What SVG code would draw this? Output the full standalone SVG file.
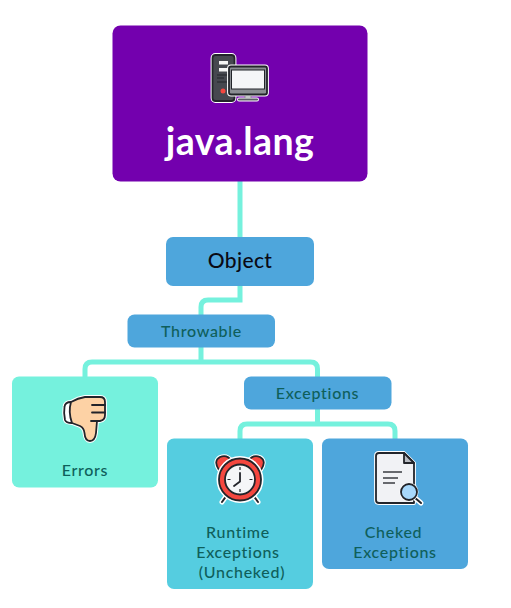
<svg xmlns="http://www.w3.org/2000/svg" width="511" height="608" viewBox="0 0 511 608">
<style>
text{font-family:"Lato","Noto Sans",sans-serif;text-anchor:middle}
.lbl{font-size:16px;font-weight:500;fill:#0f5f5b;letter-spacing:.7px}
.con{fill:none;stroke:#75f1dd;stroke-width:5}
.ol{stroke:#22242a;stroke-width:1.800;stroke-linejoin:round;stroke-linecap:round}
.halo{fill:none;stroke:#fff;stroke-width:3.800;stroke-linejoin:round;stroke-linecap:round}
</style>
<rect width="511" height="608" fill="#fff"/>
<g id="connectors">
<path class="con" d="M240 181V237"/>
<path class="con" d="M240 286V300H208Q201 300 201 307V315"/>
<path class="con" d="M201 347V362M85 377V369Q85 362 92 362H310.500Q317.500 362 317.500 369V377"/>
<path class="con" d="M317.500 409V424M240 439V431Q240 424 247 424H388Q395 424 395 431V439"/>
</g>
<g id="java-lang">
<rect x="112.500" y="25.500" width="255" height="156" rx="8" fill="#7300ae"/>
<g>
<rect class="halo" x="212.500" y="55" width="22" height="46" rx="3"/>
<rect class="ol" x="212.500" y="55" width="22" height="46" rx="3" fill="#46484f"/>
<rect x="219" y="61" width="9" height="3.500" fill="#f5f5f5"/>
<rect x="219" y="68" width="9" height="3.500" fill="#f5f5f5"/>
<path d="M217 75H228M217 78H224M217 82H228" stroke="#22242a" stroke-width="1"/>
<circle cx="223" cy="91" r="2.500" fill="#f4473f"/>
<path d="M245 94H251V99H245Z" fill="#8b8e93" stroke="#22242a"/>
<path d="M239 99.500H257" stroke="#fff" stroke-width="4" stroke-linecap="round"/>
<path d="M239 99.500H257" stroke="#5c5f65" stroke-width="2.200" stroke-linecap="round"/>
<rect class="halo" x="229" y="66.500" width="38" height="28" rx="2"/>
<rect class="ol" x="229" y="66.500" width="38" height="28" rx="2" fill="#8b8e93"/>
<rect x="231.500" y="70" width="33" height="19" fill="#f5f6f8" stroke="#22242a" stroke-width="1"/>
</g>
<text x="240" y="155" font-size="37.500" font-weight="700" fill="#fff" style="letter-spacing:.4px">java.lang</text>
</g>
<g id="object">
<rect x="166" y="237" width="148" height="49" rx="7" fill="#4ea6dc"/>
<text x="240" y="268" font-size="21" font-weight="500" fill="#0a0a14" style="letter-spacing:.4px">Object</text>
</g>
<g id="throwable">
<rect x="127.500" y="314.500" width="147.500" height="33" rx="7" fill="#4ea6dc"/>
<text class="lbl" x="201.500" y="336.500">Throwable</text>
</g>
<g id="errors">
<rect x="12" y="376.500" width="146" height="111" rx="7" fill="#75f1dd"/>
<g>
<path class="halo" d="M71 402Q65 402 64.500 407Q63.500 413 65 420Q66 423 72 423L80 426Q84 428 84.500 433Q85 441 90 441Q95 441 96 433L97 421H100Q105 420 105 415V402Q105 397 100 397H85Q78 398 71 402Z"/>
<path class="ol" d="M71 402Q65 402 64.500 407Q63.500 413 65 420Q66 423 72 423Z" fill="#fff"/>
<path class="ol" d="M71 402Q78 398 85 397H100Q105 397 105 402V415Q105 420 100 421H97L96 433Q95 441 90 441Q85 441 84.500 433Q84 428 80 426L72 423Q68 412 71 402Z" fill="#fdd2a5"/>
<path class="ol" d="M92 405H105M92 412.500H105M91 421H97" fill="none"/>
</g>
<text class="lbl" x="85" y="476">Errors</text>
</g>
<g id="exceptions">
<rect x="244" y="376.500" width="147.500" height="33" rx="7" fill="#4ea6dc"/>
<text class="lbl" x="317.500" y="398.500">Exceptions</text>
</g>
<g id="runtime">
<rect x="167" y="438.500" width="146" height="150.500" rx="7" fill="#55cde0"/>
<g>
<path d="M227 495L222 502M253 495L258 502" stroke="#fff" stroke-width="5" stroke-linecap="round"/>
<path d="M227 495L222 502M253 495L258 502" stroke="#22242a" stroke-width="2" stroke-linecap="round"/>
<path class="halo" d="M219 470Q213 461 220 457Q227 454 232 461ZM261 470Q267 461 260 457Q253 454 248 461Z"/>
<path class="ol" d="M219 470Q213 461 220 457Q227 454 232 461ZM261 470Q267 461 260 457Q253 454 248 461Z" fill="#f4473f"/>
<circle cx="240" cy="479.500" r="22.500" fill="none" stroke="#fff" stroke-width="2"/>
<circle class="ol" cx="240" cy="479.500" r="21" fill="#f4473f"/>
<circle class="ol" cx="240" cy="479.500" r="15" fill="#f5f6f8"/>
<path d="M240 467V470M240 489V492M227.500 479.500H230.500M249.500 479.500H252.500" stroke="#22242a" stroke-width="1.200"/>
<path d="M240 473V481.500L234 486" fill="none" stroke="#22242a" stroke-width="1.800" stroke-linecap="round" stroke-linejoin="round"/>
</g>
<text class="lbl" x="238" y="538">Runtime</text>
<text class="lbl" x="238" y="558">Exceptions</text>
<text class="lbl" x="242" y="578">(Uncheked)</text>
</g>
<g id="cheked">
<rect x="322" y="438.500" width="146" height="130.500" rx="7" fill="#4ea6dc"/>
<g>
<path class="halo" d="M379 453H404L414 463V503H379Q376 503 376 500V456Q376 453 379 453Z"/>
<path class="ol" d="M379 453H404L414 463V503H379Q376 503 376 500V456Q376 453 379 453Z" fill="#f1f2f5"/>
<path class="ol" d="M404 453V463H414Z" fill="#b9bcc2"/>
<path d="M383 472H402M383 478H398M383 483H395" stroke="#3a3c42" stroke-width="1.500" fill="none"/>
<path d="M414 497L421 503" stroke="#fff" stroke-width="5" stroke-linecap="round"/>
<path d="M414 497L421 503" stroke="#22242a" stroke-width="2" stroke-linecap="round"/>
<circle cx="409" cy="492" r="9.500" fill="#fff"/>
<circle class="ol" cx="409" cy="492" r="8" fill="#a8d8fb"/>
</g>
<text class="lbl" x="393.500" y="538">Cheked</text>
<text class="lbl" x="395" y="558">Exceptions</text>
</g>
</svg>
